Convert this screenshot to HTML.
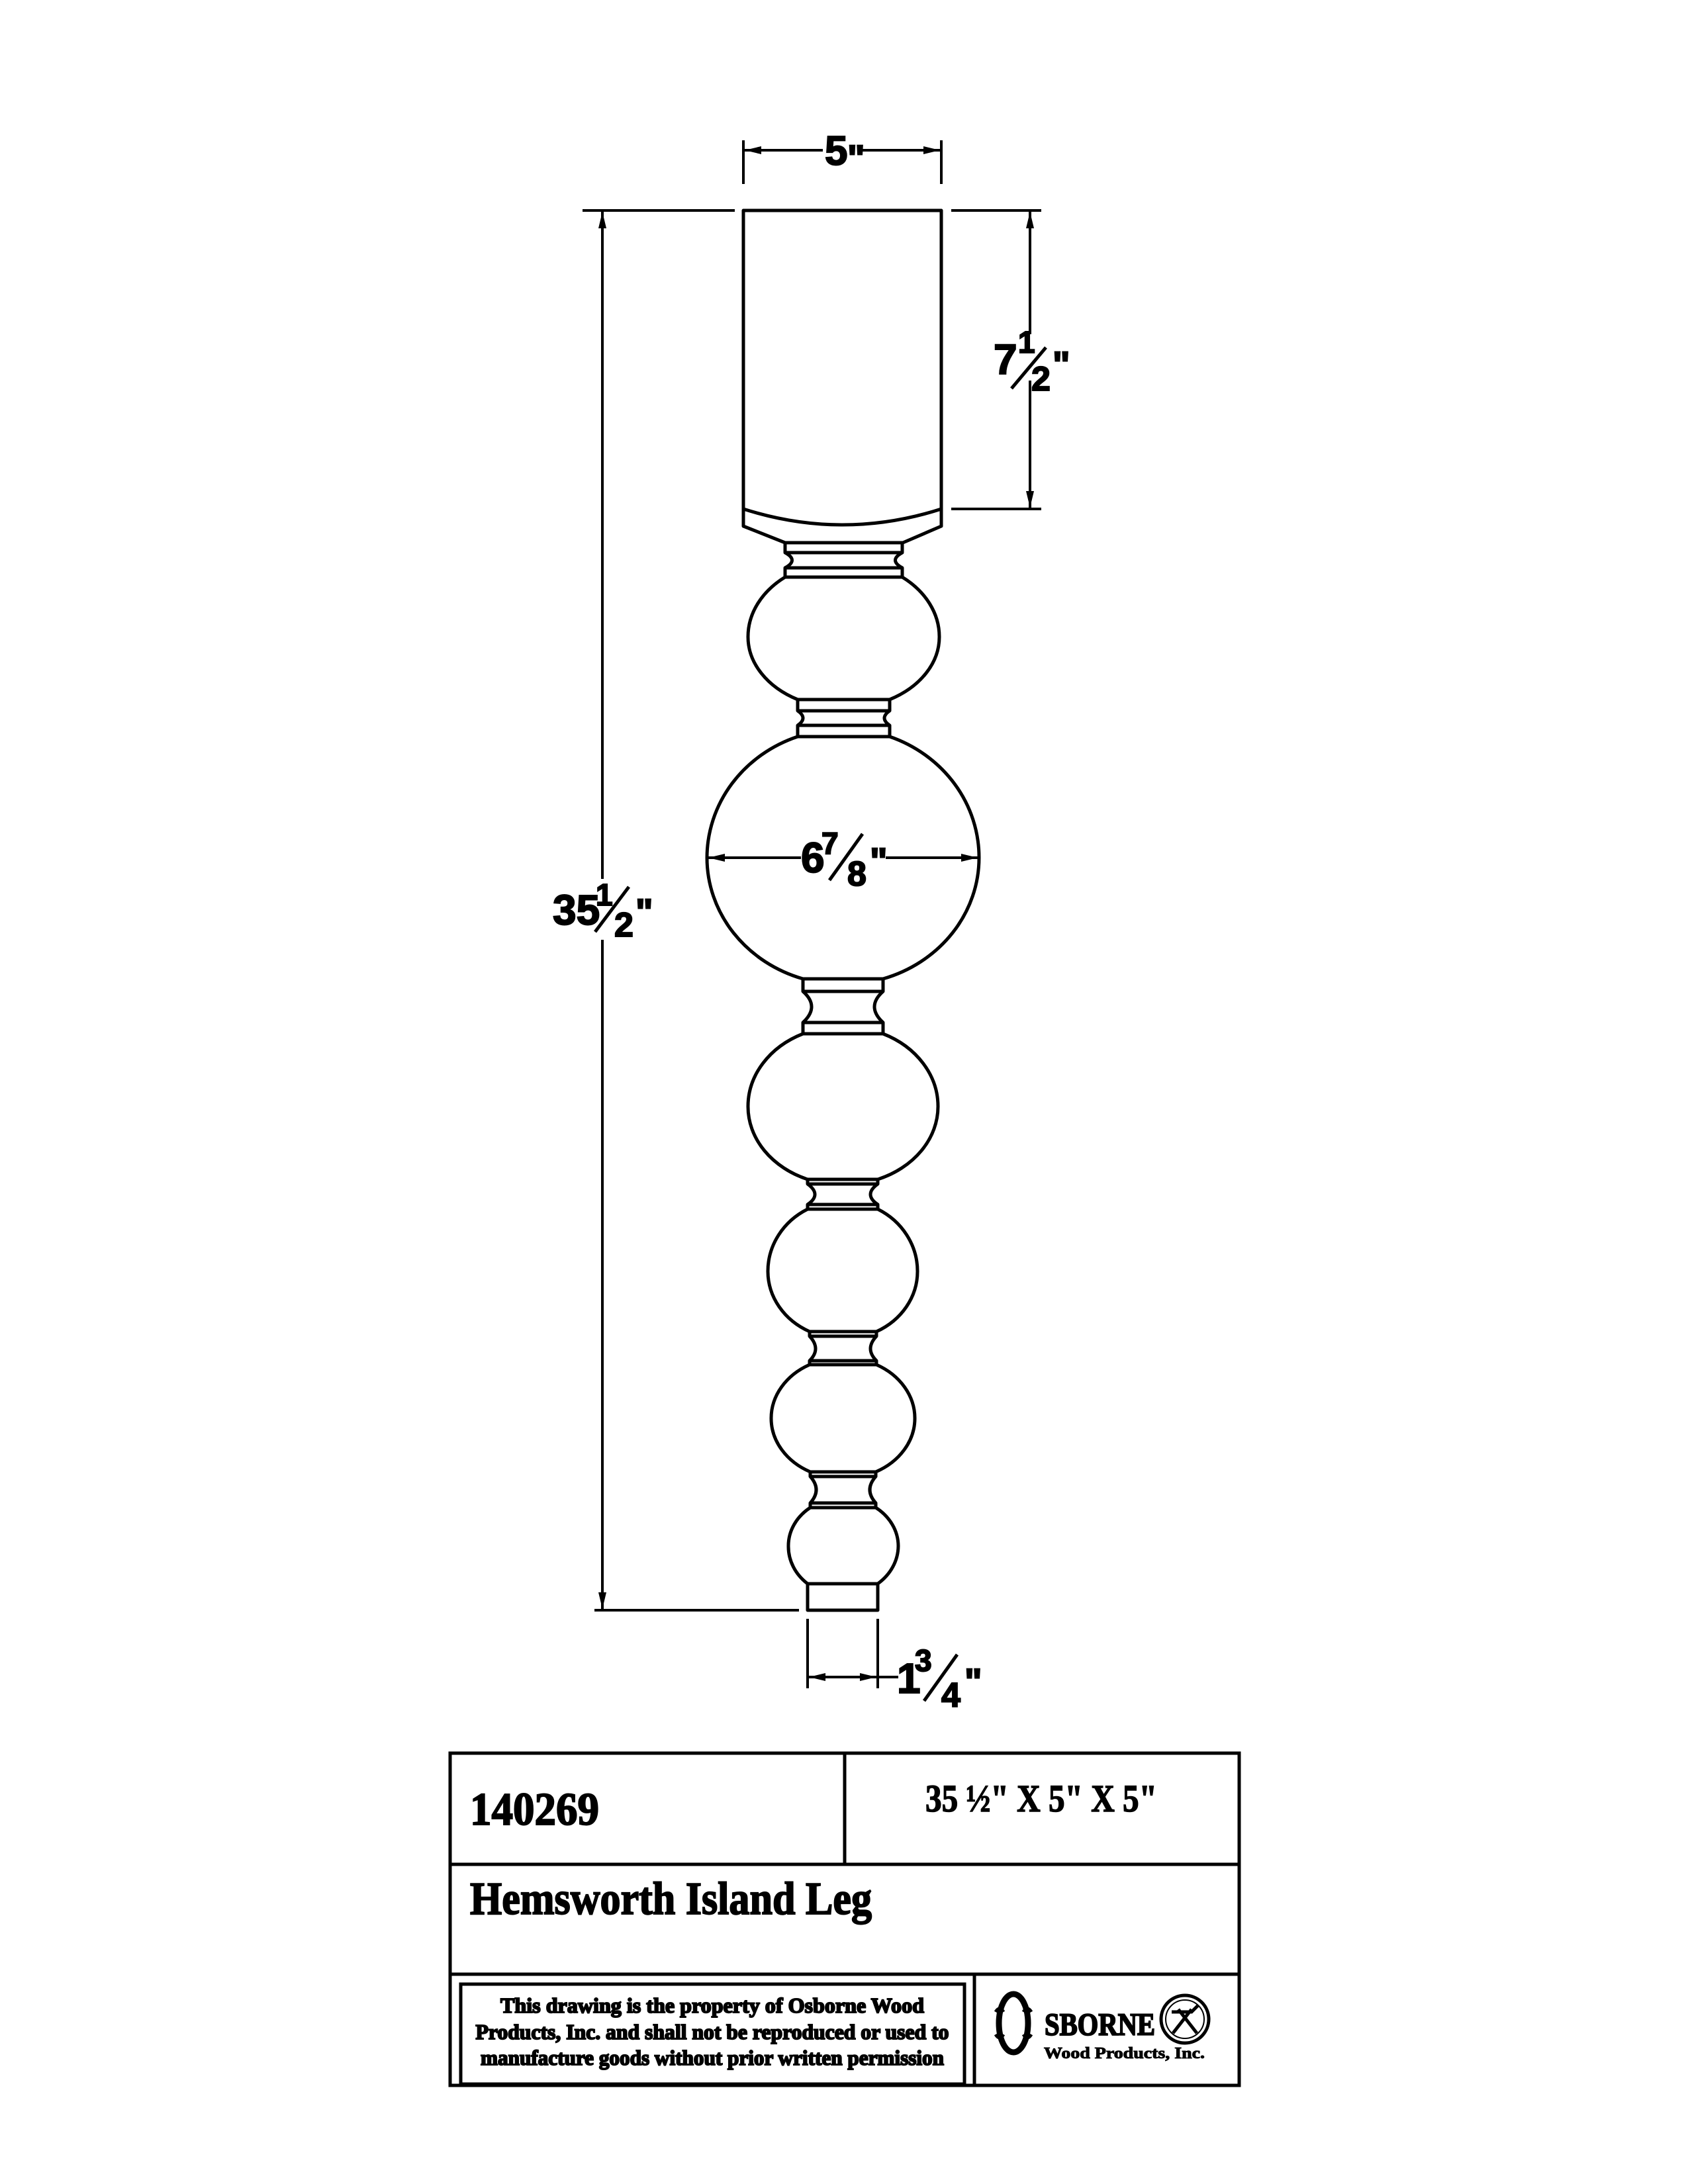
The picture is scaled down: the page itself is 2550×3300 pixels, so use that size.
<!DOCTYPE html>
<html><head><meta charset="utf-8"><style>html,body{margin:0;padding:0;background:#fff}svg{display:block}</style></head>
<body>
<svg width="2550" height="3300" viewBox="0 0 2550 3300" xmlns="http://www.w3.org/2000/svg">
<g fill="#fff" stroke="#000" stroke-width="5" stroke-linejoin="round">
<!-- block -->
<path d="M1123,318 H1422 V795 L1364,820 H1186 L1123,795 Z"/>
<path d="M1123,769 Q1273,817 1422,769" fill="none"/>
<!-- balls -->
<path d="M1186,872 A144.5 114 0 0 0 1130,962 A144.5 108 0 0 0 1205,1057 L1344,1057 A144.5 108 0 0 0 1419,962 A144.5 114 0 0 0 1363,872 Z"/>
<path d="M1205,1113 A205.5 194.5 0 0 0 1068,1296 A205.5 191.5 0 0 0 1213,1479 L1334,1479 A205.5 191.5 0 0 0 1479,1296 A205.5 194.5 0 0 0 1344,1113 Z"/>
<path d="M1213,1562 A143.5 121 0 0 0 1130,1672 A143.5 118.4 0 0 0 1220,1782 L1326,1782 A143.5 118.4 0 0 0 1417,1672 A143.5 121 0 0 0 1334,1562 Z"/>
<path d="M1220,1827 A113 106.4 0 0 0 1160,1921 A113 101.8 0 0 0 1223,2012 L1324,2012 A113 101.8 0 0 0 1386,1921 A113 106.4 0 0 0 1326,1827 Z"/>
<path d="M1223,2062 A108.5 91.5 0 0 0 1165,2143 A108.5 91 0 0 0 1224,2224 L1323,2224 A108.5 91 0 0 0 1382,2143 A108.5 91.5 0 0 0 1324,2062 Z"/>
<path d="M1224,2278 A83 72.2 0 0 0 1191,2336 A83 74 0 0 0 1220,2393 L1326,2393 A83 74 0 0 0 1357,2336 A83 72.2 0 0 0 1323,2278 Z"/>
<!-- collars -->
<path d="M1186,820 H1363 V835 Q1342,846.5 1363,858 V872 H1186 V858 Q1207,846.5 1186,835 Z"/>
<path d="M1186,835 H1363 M1186,858 H1363" fill="none"/>
<path d="M1205,1057 H1344 V1074 Q1328,1085 1344,1096 V1113 H1205 V1096 Q1221,1085 1205,1074 Z"/>
<path d="M1205,1074 H1344 M1205,1096 H1344" fill="none"/>
<path d="M1213,1479 H1334 V1498 Q1308,1521 1334,1545 V1562 H1213 V1545 Q1239,1521 1213,1498 Z"/>
<path d="M1213,1498 H1334 M1213,1545 H1334" fill="none"/>
<path d="M1220,1782 H1326 V1789 Q1304,1805 1326,1820 V1827 H1220 V1820 Q1242,1805 1220,1789 Z"/>
<path d="M1220,1789 H1326 M1220,1820 H1326" fill="none"/>
<path d="M1223,2012 H1324 V2019 Q1306,2038 1324,2056 V2062 H1223 V2056 Q1241,2038 1223,2019 Z"/>
<path d="M1223,2019 H1324 M1223,2056 H1324" fill="none"/>
<path d="M1224,2224 H1323 V2231 Q1305,2251 1323,2271 V2278 H1224 V2271 Q1242,2251 1224,2231 Z"/>
<path d="M1224,2231 H1323 M1224,2271 H1323" fill="none"/>
<rect x="1220" y="2393" width="106" height="40"/>
</g>
<!-- dimension lines -->
<g stroke="#000" stroke-width="4" fill="none">
<path d="M1123,212 V278 M1422,212 V278"/>
<path d="M1123,227 H1243 M1303,227 H1422"/>
<path d="M880,318 H1110 M1437,318 H1573 M1437,769 H1573"/>
<path d="M1556,318 V505 M1556,575 V769"/>
<path d="M910,318 V1328 M910,1420 V2433"/>
<path d="M898,2433 H1207"/>
<path d="M1070,1296 H1210 M1338,1296 H1477"/>
<path d="M1220,2446 V2551 M1326,2446 V2551 M1220,2534 H1357"/>
</g>
<g fill="#000">
<path d="M1125,227 l25,-6 v12 Z M1420,227 l-25,-6 v12 Z"/>
<path d="M1556,320 l-6,25 h12 Z M1556,767 l-6,-25 h12 Z"/>
<path d="M910,320 l-6,25 h12 Z M910,2431 l-6,-25 h12 Z"/>
<path d="M1070,1296 l25,-6 v12 Z M1477,1296 l-25,-6 v12 Z"/>
<path d="M1222,2534 l25,-6 v12 Z M1324,2534 l-25,-6 v12 Z"/>
</g>
<!-- dimension text -->
<g font-family="Liberation Sans, sans-serif" font-weight="bold" fill="#000" stroke="#000" stroke-width="2">
<text x="1246" y="249" font-size="62">5</text><text x="1280" y="258" font-size="56">"</text>
<text x="1501" y="565" font-size="64">7</text>
<text x="1538" y="533" font-size="46">1</text>
<line x1="1528" y1="587" x2="1580" y2="525" stroke-width="5"/>
<text x="1558" y="590" font-size="52">2</text>
<text x="1590" y="570" font-size="56">"</text>
<text x="835" y="1397" font-size="64">35</text>
<text x="900" y="1368" font-size="46">1</text>
<line x1="899" y1="1408" x2="950" y2="1340" stroke-width="5"/>
<text x="928" y="1415" font-size="52">2</text>
<text x="960" y="1397" font-size="56">"</text>
<text x="1210" y="1318" font-size="64">6</text>
<text x="1241" y="1290" font-size="46">7</text>
<line x1="1253" y1="1330" x2="1303" y2="1260" stroke-width="5"/>
<text x="1280" y="1338" font-size="52">8</text>
<text x="1314" y="1320" font-size="56">"</text>
<text x="1355" y="2558" font-size="64">1</text>
<text x="1382" y="2525" font-size="46">3</text>
<line x1="1396" y1="2570" x2="1446" y2="2500" stroke-width="5"/>
<text x="1422" y="2579" font-size="52">4</text>
<text x="1457" y="2560" font-size="56">"</text>
</g>
<!-- title block -->
<g stroke="#000" stroke-width="5" fill="none">
<rect x="680" y="2649" width="1192" height="502"/>
<path d="M680,2817 H1872 M680,2983 H1872 M1276,2649 V2817 M1472,2983 V3151"/>
<rect x="696" y="2998" width="761" height="151"/>
</g>
<g font-family="Liberation Serif, serif" font-weight="bold" fill="#000">
<text x="710" y="2757" font-size="70" textLength="195" lengthAdjust="spacingAndGlyphs" stroke="#000" stroke-width="2">140269</text>
<text x="1398" y="2737" font-size="58" textLength="350" lengthAdjust="spacingAndGlyphs" stroke="#000" stroke-width="1.5">35 ½" X 5" X 5"</text>
<text x="710" y="2892" font-size="70" textLength="607" lengthAdjust="spacingAndGlyphs" stroke="#000" stroke-width="2">Hemsworth Island Leg</text>
<g font-size="32" text-anchor="middle" stroke="#000" stroke-width="2">
<text x="1076" y="3041" textLength="640" lengthAdjust="spacingAndGlyphs">This drawing is the property of Osborne Wood</text>
<text x="1076" y="3081" textLength="715" lengthAdjust="spacingAndGlyphs">Products, Inc. and shall not be reproduced or used to</text>
<text x="1076" y="3120" textLength="700" lengthAdjust="spacingAndGlyphs">manufacture goods without prior written permission</text>
</g>
<text x="1578" y="3075" font-size="48" textLength="167" lengthAdjust="spacingAndGlyphs" stroke="#000" stroke-width="2">SBORNE</text>
<text x="1577" y="3110" font-size="24" textLength="243" lengthAdjust="spacingAndGlyphs" stroke="#000" stroke-width="1">Wood  Products, Inc.</text>
</g>
<ellipse cx="1531" cy="3057" rx="22" ry="44" fill="none" stroke="#000" stroke-width="9"/>
<path d="M1504,3040 q6,-10 12,0 M1504,3074 q6,10 12,0 M1546,3040 q6,-10 12,0 M1546,3074 q6,10 12,0" stroke="#000" stroke-width="5" fill="none"/>
<circle cx="1790" cy="3051" r="36" fill="none" stroke="#000" stroke-width="5"/>
<circle cx="1790" cy="3051" r="29" fill="none" stroke="#000" stroke-width="2"/>
<path d="M1772,3072 L1800,3036 M1808,3072 L1780,3036 M1770,3040 H1800 L1810,3030" stroke="#000" stroke-width="5" fill="none"/>
</svg>
</body></html>
